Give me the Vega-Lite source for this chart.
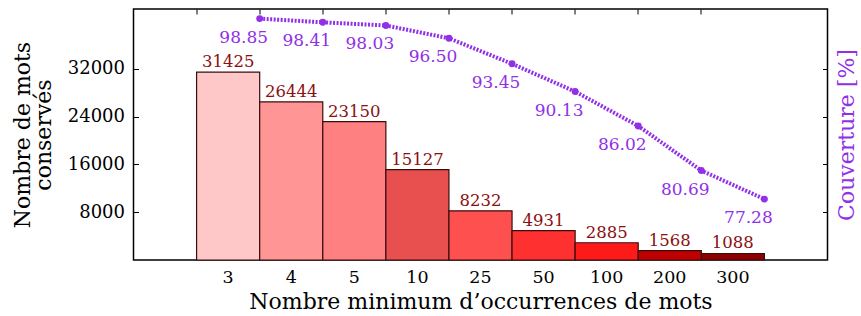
{
  "$schema": "https://vega.github.io/schema/vega-lite/v6.json",
  "width": 694,
  "height": 251,
  "autosize": "none",
  "padding": {"left": 133.5, "top": 9, "right": 33.5, "bottom": 56},
  "config": {
    "font": "DejaVu Serif",
    "text": {"font": "DejaVu Serif"},
    "view": {"stroke": "#000000", "strokeWidth": 1.5},
    "axis": {"grid": false, "domain": false, "labelFont": "DejaVu Serif", "titleFont": "DejaVu Serif", "labelColor": "#000000", "titleColor": "#000000", "tickColor": "#000000", "titleFontWeight": "normal"}
  },
  "data": {
    "values": [
      {"seuil": "3", "mots": 31425, "couv": 98.85},
      {"seuil": "4", "mots": 26444, "couv": 98.41},
      {"seuil": "5", "mots": 23150, "couv": 98.03},
      {"seuil": "10", "mots": 15127, "couv": 96.50},
      {"seuil": "25", "mots": 8232, "couv": 93.45},
      {"seuil": "50", "mots": 4931, "couv": 90.13},
      {"seuil": "100", "mots": 2885, "couv": 86.02},
      {"seuil": "200", "mots": 1568, "couv": 80.69},
      {"seuil": "300", "mots": 1088, "couv": 77.28}
    ]
  },
  "resolve": {"scale": {"y": "independent"}, "axis": {"x": "independent"}},
  "layer": [
    {
      "encoding": {
        "x": {
          "field": "seuil", "type": "ordinal",
          "scale": {"domain": ["_g", "3", "4", "5", "10", "25", "50", "100", "200", "300", "_d"], "paddingInner": 0, "paddingOuter": 0},
          "axis": {"orient": "bottom", "values": ["3", "4", "5", "10", "25", "50", "100", "200", "300"], "ticks": false, "labelAngle": 0, "labelFontSize": 17.5, "labelPadding": 8, "title": "Nombre minimum d\u2019occurrences de mots", "titleFontSize": 22, "titlePadding": 6}
        },
        "y": {
          "field": "mots", "type": "quantitative",
          "scale": {"domain": [0, 42000], "nice": false, "zero": true},
          "axis": {"orient": "left", "values": [8000, 16000, 24000, 32000], "format": "d", "tickSize": -5, "labelPadding": 14, "labelFontSize": 18, "title": ["Nombre de mots", "conserv\u00e9s"], "titleFontSize": 22, "titleLineHeight": 21, "titlePadding": 12}
        }
      },
      "layer": [
        {
          "mark": {"type": "bar", "stroke": "#3a0d0d", "strokeWidth": 1.2},
          "encoding": {
            "color": {
              "field": "seuil", "type": "ordinal",
              "scale": {"domain": ["3", "4", "5", "10", "25", "50", "100", "200", "300"], "range": ["#ffc8c8", "#ff9595", "#ff8080", "#e84f4f", "#ff5050", "#ff3030", "#ff1a1a", "#c00000", "#8b0000"]},
              "legend": null
            }
          }
        },
        {
          "mark": {"type": "text", "baseline": "alphabetic", "dy": -5, "fontSize": 16.5, "color": "#8b1010"},
          "encoding": {"text": {"field": "mots", "type": "quantitative", "format": "d"}}
        }
      ]
    },
    {
      "encoding": {
        "x": {
          "field": "seuil", "type": "ordinal", "bandPosition": 1,
          "scale": {"domain": ["_g", "3", "4", "5", "10", "25", "50", "100", "200", "300", "_d"], "paddingInner": 0, "paddingOuter": 0},
          "axis": {"orient": "top", "values": ["3", "4", "5", "10", "25", "50", "100", "200", "300"], "bandPosition": 0, "labels": false, "tickSize": -5, "title": null}
        },
        "y": {
          "field": "couv", "type": "quantitative",
          "scale": {"domain": [70, 100], "nice": false, "zero": false},
          "axis": {"orient": "right", "values": [75.714, 81.429, 87.143, 92.857], "labels": false, "tickSize": -5, "title": "Couverture [%]", "titleAngle": 270, "titleFontSize": 22, "titleColor": "#9130e8", "titlePadding": 30}
        }
      },
      "layer": [
        {
          "mark": {"type": "line", "color": "#9130e8", "strokeWidth": 4, "strokeDash": [2, 1.5]}
        },
        {
          "mark": {"type": "point", "filled": true, "opacity": 1, "size": 48, "color": "#9130e8"}
        },
        {
          "mark": {"type": "text", "baseline": "alphabetic", "dx": -16, "dy": 24, "fontSize": 17, "color": "#9130e8"},
          "encoding": {"text": {"field": "couv", "type": "quantitative", "format": ".2f"}}
        }
      ]
    }
  ]
}
